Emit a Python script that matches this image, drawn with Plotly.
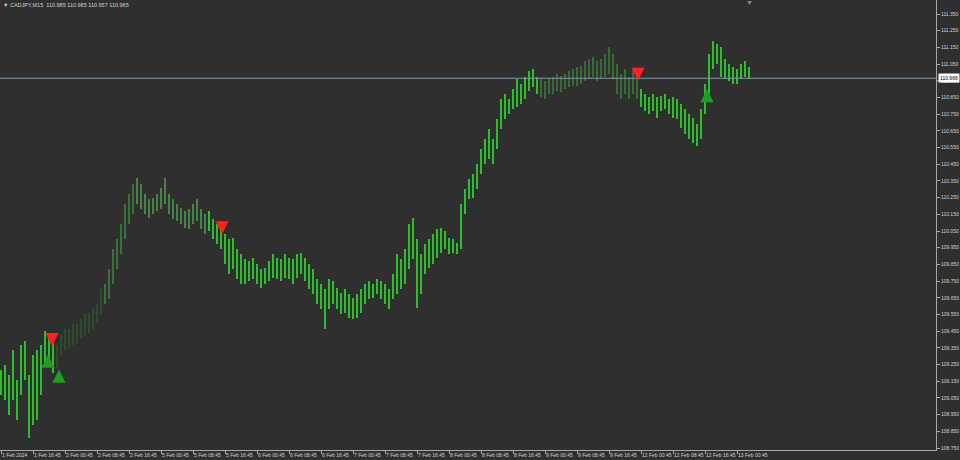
import plotly.graph_objects as go

# ---- data (hourly high / low, CADJPY M15) ----
high = [109.22,109.25,109.19,109.34,109.16,109.37,109.39,109.19,109.31,109.34,109.37,109.45,109.43,109.40,109.37,
        109.43,109.46,109.46,109.49,109.50,109.52,109.55,109.56,109.58,109.61,109.70,109.73,109.82,109.94,110.00,
        110.09,110.21,110.27,110.33,110.37,110.33,110.27,110.24,110.25,110.27,110.31,110.37,110.27,110.24,110.21,
        110.19,110.17,110.18,110.21,110.24,110.18,110.15,110.17,110.12,110.09,110.07,110.03,110.00,110.01,109.94,
        109.91,109.88,109.87,109.89,109.85,109.82,109.83,109.87,109.91,109.89,109.88,109.91,109.89,109.88,109.91,
        109.92,109.89,109.85,109.82,109.76,109.73,109.70,109.76,109.75,109.71,109.68,109.70,109.67,109.65,109.67,
        109.70,109.73,109.75,109.73,109.76,109.75,109.73,109.70,109.79,109.91,109.88,109.94,110.09,110.13,110.00,
        109.91,109.97,110.00,110.03,110.06,110.07,110.05,110.01,110.00,109.98,110.21,110.30,110.36,110.39,110.45,
        110.54,110.60,110.66,110.60,110.72,110.84,110.87,110.84,110.90,110.96,110.93,110.97,111.01,111.02,110.97,
        110.96,110.95,110.96,110.97,110.99,110.98,110.99,111.01,111.02,111.03,111.04,111.07,111.08,111.09,111.07,
        111.08,111.11,111.15,111.11,111.05,110.99,111.02,110.97,111.01,110.97,110.90,110.87,110.85,110.87,110.85,
        110.86,110.87,110.84,110.85,110.84,110.81,110.78,110.75,110.73,110.69,110.78,110.93,111.11,111.19,111.17,
        111.15,111.08,111.05,111.03,111.02,111.05,111.07,111.03]
low = [109.07,109.04,108.95,109.04,108.92,109.07,109.16,108.81,108.89,108.92,109.07,109.25,109.25,109.20,109.23,
       109.31,109.34,109.35,109.37,109.38,109.41,109.43,109.44,109.46,109.50,109.55,109.61,109.64,109.73,109.82,
       109.91,110.00,110.09,110.15,110.21,110.18,110.15,110.13,110.15,110.17,110.18,110.21,110.15,110.12,110.11,
       110.09,110.07,110.06,110.09,110.11,110.06,110.03,110.05,110.00,109.97,109.94,109.85,109.79,109.82,109.76,
       109.73,109.73,109.75,109.76,109.73,109.71,109.73,109.75,109.77,109.76,109.75,109.77,109.76,109.73,109.77,
       109.79,109.75,109.70,109.67,109.61,109.58,109.46,109.58,109.61,109.58,109.55,109.56,109.53,109.52,109.53,
       109.56,109.61,109.64,109.65,109.67,109.64,109.61,109.58,109.64,109.67,109.70,109.73,109.82,109.88,109.59,
       109.67,109.79,109.83,109.85,109.89,109.92,109.94,109.91,109.92,109.91,109.94,110.15,110.24,110.25,110.30,
       110.39,110.45,110.48,110.45,110.54,110.66,110.72,110.75,110.78,110.79,110.81,110.84,110.89,110.91,110.87,
       110.85,110.84,110.87,110.87,110.89,110.88,110.90,110.91,110.92,110.92,110.93,110.95,110.96,110.97,110.95,
       110.96,110.97,110.99,110.96,110.87,110.84,110.87,110.84,110.87,110.84,110.79,110.77,110.75,110.77,110.73,
       110.77,110.78,110.75,110.73,110.72,110.67,110.63,110.60,110.58,110.56,110.60,110.75,110.87,111.02,111.05,
       110.97,110.96,110.95,110.93,110.93,110.96,110.97,110.96]

sell_hours = [12.75, 55.25, 159.25]
sell_prices = [109.36, 110.03, 110.95]
buy_hours = [11.75, 14.5, 176.5]
buy_prices = [109.31, 109.22, 110.90]

current_price = 110.965
current_label = "110.966"
title_text = "CADJPY,M15  110.985 110.985 110.957 110.965"

x_tick_labels = ["1 Feb 2024", "1 Feb 16:45", "2 Feb 00:45", "2 Feb 08:45", "2 Feb 16:45",
                 "5 Feb 00:45", "5 Feb 08:45", "5 Feb 16:45", "6 Feb 00:45", "6 Feb 08:45",
                 "6 Feb 16:45", "7 Feb 00:45", "7 Feb 08:45", "7 Feb 16:45", "8 Feb 00:45",
                 "8 Feb 08:45", "8 Feb 16:45", "9 Feb 00:45", "9 Feb 08:45", "9 Feb 16:45",
                 "12 Feb 00:45", "12 Feb 08:45", "12 Feb 16:45", "13 Feb 00:45"]
y_tick_values = [round(108.75 + 0.1 * k, 3) for k in range(27)]

# ---- styling ----
BG = "#2f2f2f"
AX = "#a8a8a8"
TXT = "#d2d2d2"
FONT = "Liberation Sans"
n = len(high)
hours = list(range(n))


def shade(i):
    if 14 <= i < 26:
        return "#2c4e2c"
    if 26 <= i < 34:
        return "#3a713a"
    if 34 <= i < 52:
        return "#468446"
    if 135 <= i < 160:
        return "#376c37"
    return "#2dbd2d"


colors = [shade(i) for i in hours]

fig = go.Figure()
fig.add_trace(go.Bar(
    x=hours, base=low, y=[h - l for h, l in zip(high, low)],
    width=0.45, marker=dict(color=colors, line=dict(width=0)),
    hoverinfo="skip", showlegend=False))

for hx, py in zip(sell_hours, sell_prices):
    fig.add_annotation(x=hx, y=py, xref="x", yref="y", text="", showarrow=True,
                       ax=0, ay=-14, arrowhead=2, arrowsize=0.75, arrowwidth=3.5,
                       arrowcolor="#ff2020", standoff=0)
for hx, py in zip(buy_hours, buy_prices):
    fig.add_annotation(x=hx, y=py, xref="x", yref="y", text="", showarrow=True,
                       ax=0, ay=14, arrowhead=2, arrowsize=0.75, arrowwidth=3.5,
                       arrowcolor="#1f9f1f", standoff=0)

fig.add_hline(y=current_price, line=dict(color="#7d97b0", width=1))
fig.add_annotation(x=1, xref="paper", y=current_price, yref="y", text=current_label,
                   xanchor="left", yanchor="middle", showarrow=False, xshift=2,
                   bgcolor="#ffffff", font=dict(size=5, color="#000000", family=FONT),
                   borderpad=1)
fig.add_annotation(x=0, xref="paper", y=1, yref="paper", text="\u25bc " + title_text,
                   xanchor="left", yanchor="top", showarrow=False, xshift=1, yshift=0,
                   font=dict(size=5.5, color=TXT, family=FONT))
fig.add_annotation(x=187, xref="x", y=1, yref="paper", text="\u25bc",
                   xanchor="center", yanchor="top", showarrow=False, yshift=3,
                   font=dict(size=7, color="#8a8a8a"))

fig.update_layout(
    width=960, height=460,
    margin=dict(l=0, r=24, t=0, b=10, autoexpand=False),
    paper_bgcolor=BG, plot_bgcolor=BG,
    bargap=0, showlegend=False,
    font=dict(family=FONT, size=5, color=TXT),
)
fig.update_xaxes(
    range=[-0.25, 233.75], tickvals=[8 * k for k in range(len(x_tick_labels))],
    ticktext=x_tick_labels, ticks="outside", ticklen=3, tickcolor=AX, tickangle=0,
    ticklabelposition="outside right", showgrid=False, zeroline=False, automargin=False,
    showline=True, linecolor=AX, linewidth=1, tickfont=dict(size=5, color=TXT, family=FONT),
)
fig.update_yaxes(
    side="right", range=[108.738, 111.434], tickvals=y_tick_values,
    ticktext=["%.3f" % v for v in y_tick_values], ticks="outside", ticklen=3, automargin=False,
    tickcolor=AX, showgrid=False, zeroline=False, showline=True, linecolor=AX,
    linewidth=1, tickfont=dict(size=5, color=TXT, family=FONT),
)

fig.write_html("out.html", config={"displayModeBar": False},
               post_script="document.body.style.margin='0';document.body.style.padding='0';"
                           "document.body.style.background='#2f2f2f';")
